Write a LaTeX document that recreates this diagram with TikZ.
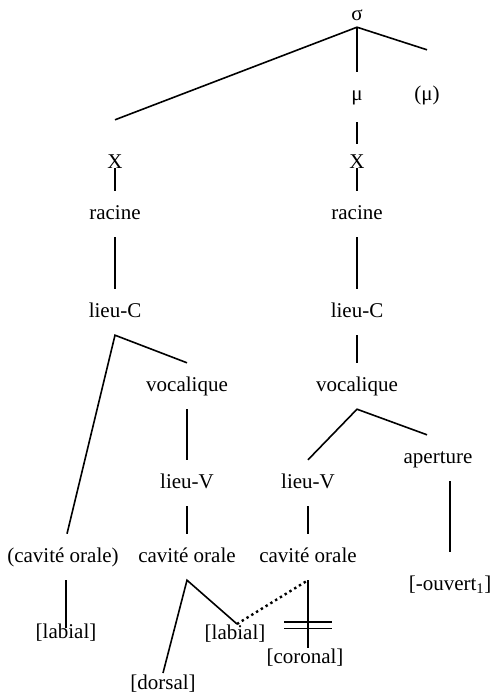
\documentclass[tikz,border=0pt]{standalone}
\usepackage{fontspec}
\setmainfont{Liberation Serif}
\usepackage{tikz}
\usetikzlibrary{positioning}

\begin{document}
\begin{tikzpicture}[
      x=1pt, y=-1pt, on grid,
      lbl/.style={inner sep=0pt, minimum height=46pt, text height=15pt, text depth=4.5pt, font=\fontsize{21}{24}\selectfont},
      rootlbl/.style={lbl, minimum height=24pt},
      branch/.style={draw, line width=1.6pt},
      assoc/.style={draw, line width=2.4pt, dash pattern=on 2.4pt off 3.2pt}
    ]
      \useasboundingbox (0,0) rectangle (492,695);

      % syllabe
      \node (sigma) [rootlbl] at (357,15) {σ};
      \node (mu) [lbl, below=80pt of sigma] {μ};
      \node (mubr) [lbl, right=70pt of mu] {(μ)};
      \node (X2) [lbl, below=68pt of mu] {X};
      \node (X1) [lbl, left=242pt of X2] {X};

      % consonne
      \node (rac1) [lbl, below=51pt of X1] {racine};
      \node (lieuC1) [lbl, below=98pt of rac1] {lieu-C};
      \node (voc1) [lbl, below right=74pt and 72pt of lieuC1] {vocalique};
      \node (lieuV1) [lbl, below=97pt of voc1] {lieu-V};
      \node (cav1) [lbl, below=74pt of lieuV1] {cavité orale};
      \node (cav0) [lbl, left=124pt of cav1] {(cavité orale)};
      \node (lab0) [lbl, below right=76pt and 3pt of cav0] {[labial]};
      \node (lab1) [lbl, below right=77pt and 48pt of cav1] {[labial]};
      \node (dor) [lbl, below left=127pt and 24pt of cav1] {[dorsal]};

      % voyelle
      \node (rac2) [lbl, below=51pt of X2] {racine};
      \node (lieuC2) [lbl, below=98pt of rac2] {lieu-C};
      \node (voc2) [lbl, below=74pt of lieuC2] {vocalique};
      \node (lieuV2) [lbl, below left=97pt and 49pt of voc2] {lieu-V};
      \node (aper) [lbl, above right=25pt and 130pt of lieuV2] {aperture};
      \node (cav2) [lbl, below=74pt of lieuV2] {cavité orale};
      \node (ouv) [lbl, below right=127pt and 12pt of aper] {[-ouvert\textsubscript{1}]};
      \node (cor) [lbl, below left=101pt and 3pt of cav2] {[coronal]};

      \coordinate (labtop) at ([xshift=2pt, yshift=10pt]lab1.center);
      \coordinate (corref) at ([yshift=10pt]cor.center);
      \coordinate (cortop) at (cav2.south |- corref);

      \draw[branch] ([yshift=20pt]X1.north) -- (sigma.south) -- ([yshift=22pt]mubr.north);
      \draw[branch] (sigma.south) -- (mu.north);
      \draw[branch] ([yshift=-4pt]mu.south) -- ([yshift=-4pt]X2.north);
      \draw[branch] ([yshift=-5pt]X1.center) -- (rac1.north);
      \draw[branch] ([yshift=-5pt]X2.center) -- (rac2.north);
      \draw[branch] (rac1) -- (lieuC1);
      \draw[branch] (rac2) -- (lieuC2);
      \draw[branch] ([xshift=4pt]cav0.north) -- (lieuC1.south) -- (voc1.north);
      \draw[branch] (voc1) -- (lieuV1);
      \draw[branch] (lieuV1) -- (cav1);
      \draw[branch] (lieuC2) -- (voc2);
      \draw[branch] (lieuV2.north) -- (voc2.south) -- ([xshift=-11pt]aper.north);
      \draw[branch] (lieuV2) -- (cav2);
      \draw[branch] (aper.south -| ouv) -- ([yshift=10pt]ouv.north);
      \draw[branch] (cav0.south -| lab0) -- ([yshift=5pt]lab0.center);
      \draw[branch] ([yshift=11pt]dor.center) -- (cav1.south) -- (labtop);
      \draw[assoc] (labtop) -- (cav2.south);
      \draw[branch] (cav2.south) -- (cortop);

      % association rompue
      \path (cav2.south) -- (cortop) coordinate[pos=0.62] (cutA) coordinate[pos=0.71] (cutB);
      \draw[branch] ([xshift=-24pt]cutA) -- ([xshift=24pt]cutA);
      \draw[branch] ([xshift=-24pt]cutB) -- ([xshift=24pt]cutB);
    \end{tikzpicture}
\end{document}
